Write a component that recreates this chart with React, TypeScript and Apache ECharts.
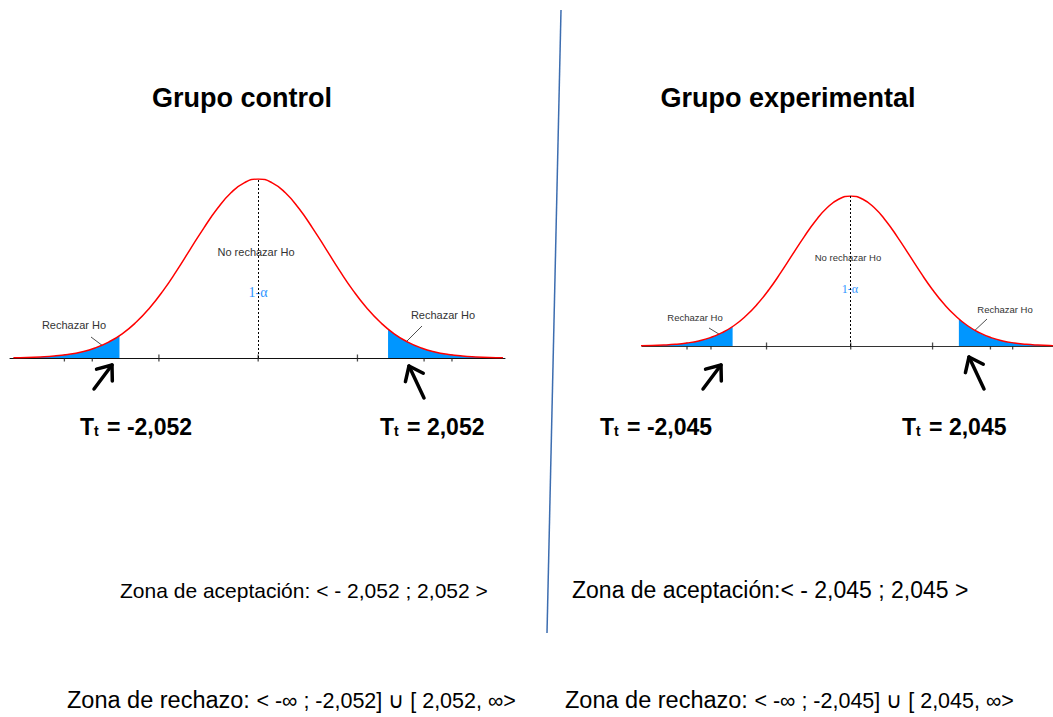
import React, { useEffect, useRef } from "react";
import * as echarts from "echarts";

// Normal curve (x in standard units, height relative to the peak)
const curveX = [-3.6, -3.4, -3.2, -3.0, -2.8, -2.6, -2.4, -2.2, -2.0, -1.8, -1.6, -1.4, -1.2, -1.0, -0.8, -0.6, -0.4, -0.2, 0,
  0.2, 0.4, 0.6, 0.8, 1.0, 1.2, 1.4, 1.6, 1.8, 2.0, 2.2, 2.4, 2.6, 2.8, 3.0, 3.2, 3.4, 3.6];
const curveY = [0.002, 0.003, 0.006, 0.011, 0.020, 0.034, 0.056, 0.089, 0.135, 0.198, 0.278, 0.375, 0.487, 0.607, 0.726, 0.835, 0.923, 0.980, 1,
  0.980, 0.923, 0.835, 0.726, 0.607, 0.487, 0.375, 0.278, 0.198, 0.135, 0.089, 0.056, 0.034, 0.020, 0.011, 0.006, 0.003, 0.002];

// Critical points as drawn (x, height) for each group
const controlLeftEdge = [-2.04, 0.125];
const controlRightEdge = [1.91, 0.161];
const experimentalLeftEdge = [-2.02, 0.130];
const experimentalRightEdge = [1.85, 0.181];

// Tick marks on each axis
const controlTicks = [-2.85, -2.44, -1.46, 0, 1.46, 2.44, 2.85];
const experimentalTicks = [-2.8, -2.39, -1.44, 0, 1.4, 2.39, 2.77];

const titles = ["Grupo control", "Grupo experimental"];
const criticalLabels = ["-2,052", "2,052", "-2,045", "2,045"];
const acceptLabels = ["Zona de aceptación: < - 2,052 ; 2,052 >", "Zona de aceptación:< - 2,045 ; 2,045 >"];
const rejectIntervals = ["< -∞ ; -2,052] ∪ [ 2,052, ∞>", "< -∞ ; -2,045] ∪ [ 2,045, ∞>"];

const FONT = "'Liberation Sans', Arial, sans-serif";
const SERIF = "'Liberation Serif', 'Times New Roman', serif";

function curvePoints() {
  return curveX.map((x, i) => [x, curveY[i]]);
}
function leftTail(edge: number[]) {
  const pts = curvePoints().filter((p) => p[0] < edge[0]);
  return [...pts, edge];
}
function rightTail(edge: number[]) {
  const pts = curvePoints().filter((p) => p[0] > edge[0]);
  return [edge, ...pts];
}

function arrow(tail: number[], tip: number[], key: string) {
  const dx = tip[0] - tail[0];
  const dy = tip[1] - tail[1];
  const len = Math.sqrt(dx * dx + dy * dy);
  const ux = dx / len, uy = dy / len;
  const L = 16, a = (38 * Math.PI) / 180;
  const w1 = [tip[0] - L * (ux * Math.cos(a) - uy * Math.sin(a)), tip[1] - L * (uy * Math.cos(a) + ux * Math.sin(a))];
  const w2 = [tip[0] - L * (ux * Math.cos(a) + uy * Math.sin(a)), tip[1] - L * (uy * Math.cos(a) - ux * Math.sin(a))];
  return [
    { type: "polyline", id: key + "s", shape: { points: [tail, tip] }, style: { stroke: "#000", lineWidth: 3.5, lineCap: "round" } },
    { type: "polyline", id: key + "h", shape: { points: [w1, tip, w2] }, style: { stroke: "#000", fill: null, lineWidth: 3.5, lineCap: "round", lineJoin: "round" } },
  ];
}

function smallText(x: number, y: number, text: string, size: number, color = "#333", family = FONT) {
  return {
    type: "text",
    x,
    y,
    style: { text, fill: color, fontSize: size, fontFamily: family, textAlign: "center", textVerticalAlign: "middle" },
  };
}
function leader(p1: number[], p2: number[]) {
  return { type: "line", shape: { x1: p1[0], y1: p1[1], x2: p2[0], y2: p2[1] }, style: { stroke: "#222", lineWidth: 0.8 } };
}
function tLabel(x: number, y: number, value: string) {
  return {
    type: "text",
    x,
    y,
    style: {
      text: "{a|T}{b|t}{a| = " + value + "}",
      fontFamily: FONT,
      textVerticalAlign: "middle",
      rich: {
        a: { fontSize: 23, fontWeight: "bold", fill: "#000", fontFamily: FONT, lineHeight: 28, verticalAlign: "bottom" },
        b: { fontSize: 14, fontWeight: "bold", fill: "#000", fontFamily: FONT, lineHeight: 28, verticalAlign: "bottom", padding: [0, 2, 0, 0] },
      },
    },
  };
}
function rejectLabel(x: number, y: number, interval: string) {
  return {
    type: "text",
    x,
    y,
    style: {
      text: "{a|Zona de rechazo: }{b|" + interval + "}",
      textVerticalAlign: "middle",
      rich: {
        a: { fontSize: 23.5, fontFamily: FONT, fill: "#000", lineHeight: 28, verticalAlign: "bottom" },
        b: { fontSize: 21.5, fontFamily: FONT, fill: "#000", lineHeight: 28, verticalAlign: "bottom" },
      },
    },
  };
}

function seriesFor(gridIndex: number, leftEdge: number[], rightEdge: number[], ticks: number[]) {
  const common = { xAxisIndex: gridIndex, yAxisIndex: gridIndex, silent: true };
  return [
    { ...common, type: "line", data: leftTail(leftEdge), smooth: true, symbol: "none", lineStyle: { width: 0 }, areaStyle: { color: "#0096ff", opacity: 1 } },
    { ...common, type: "line", data: rightTail(rightEdge), smooth: true, symbol: "none", lineStyle: { width: 0 }, areaStyle: { color: "#0096ff", opacity: 1 } },
    {
      ...common,
      type: "line",
      data: curvePoints(),
      smooth: true,
      symbol: "none",
      lineStyle: { color: "#ff0000", width: 1.5 },
      markLine: {
        silent: true,
        symbol: "none",
        label: { show: false },
        lineStyle: { color: "#000", type: [2, 2], width: 1 },
        data: [[{ coord: [0, 0] }, { coord: [0, 1] }]],
      },
    },
    {
      ...common,
      type: "scatter",
      data: ticks.map((t) => [t, 0]),
      symbol: "rect",
      symbolSize: [1.3, 7],
      itemStyle: { color: "#222" },
    },
  ];
}

export default function App() {
  const ref = useRef<HTMLDivElement>(null);
  useEffect(() => {
    if (!ref.current) return;
    const chart = echarts.init(ref.current, undefined, { renderer: "svg" });
    const axisCommon = {
      type: "value",
      axisLabel: { show: false },
      axisTick: { show: false },
      splitLine: { show: false },
    };
    const option = {
      animation: false,
      backgroundColor: "#fff",
      grid: [
        { left: 10, right: 548, top: 179, bottom: 359 },
        { left: 642, right: 0, top: 196, bottom: 371 },
      ],
      xAxis: [
        { ...axisCommon, gridIndex: 0, min: -3.65, max: 3.63, axisLine: { show: true, onZero: true, lineStyle: { color: "#111", width: 1 } } },
        { ...axisCommon, gridIndex: 1, min: -3.57, max: 3.46, axisLine: { show: true, onZero: true, lineStyle: { color: "#333", width: 1 } } },
      ],
      yAxis: [
        { ...axisCommon, gridIndex: 0, min: 0, max: 1, axisLine: { show: false } },
        { ...axisCommon, gridIndex: 1, min: 0, max: 1, axisLine: { show: false } },
      ],
      series: [
        ...seriesFor(0, controlLeftEdge, controlRightEdge, controlTicks),
        ...seriesFor(1, experimentalLeftEdge, experimentalRightEdge, experimentalTicks),
      ],
      graphic: [
        { type: "line", shape: { x1: 561, y1: 10, x2: 547, y2: 633 }, style: { stroke: "#3c6db0", lineWidth: 1.5 } },
        { type: "text", x: 242, y: 98, style: { text: titles[0], fontSize: 27, fontWeight: "bold", fontFamily: FONT, fill: "#000", textAlign: "center", textVerticalAlign: "middle" } },
        { type: "text", x: 788, y: 98, style: { text: titles[1], fontSize: 27, fontWeight: "bold", fontFamily: FONT, fill: "#000", textAlign: "center", textVerticalAlign: "middle" } },
        smallText(256, 252, "No rechazar Ho", 11),
        smallText(258, 292, "1-α", 14, "#2f95ff", SERIF),
        smallText(848, 257, "No rechazar Ho", 9.5),
        smallText(850, 289, "1-α", 12, "#2f95ff", SERIF),
        smallText(74, 325, "Rechazar Ho", 11),
        smallText(443, 315, "Rechazar Ho", 11),
        smallText(695, 317, "Rechazar Ho", 9.5),
        smallText(1005, 309, "Rechazar Ho", 9.5),
        leader([91, 337], [111, 352]),
        leader([422, 326], [402, 346]),
        leader([709, 328], [727, 339]),
        leader([987, 319], [971, 334]),
        ...arrow([94, 389], [112, 365], "a1"),
        ...arrow([424, 398], [409, 366], "a2"),
        ...arrow([703, 389], [721, 365], "a3"),
        ...arrow([984, 389], [969, 357], "a4"),
        tLabel(80, 424, criticalLabels[0]),
        tLabel(380, 424, criticalLabels[1]),
        tLabel(600, 424, criticalLabels[2]),
        tLabel(902, 424, criticalLabels[3]),
        { type: "text", x: 120, y: 590, style: { text: acceptLabels[0], fontSize: 21, fontFamily: FONT, fill: "#000", textVerticalAlign: "middle" } },
        { type: "text", x: 572, y: 590, style: { text: acceptLabels[1], fontSize: 23, fontFamily: FONT, fill: "#000", textVerticalAlign: "middle" } },
        rejectLabel(67, 698, rejectIntervals[0]),
        rejectLabel(565, 698, rejectIntervals[1]),
      ],
    };
    chart.setOption(option as any);
    return () => chart.dispose();
  }, []);
  return <div ref={ref} style={{ position: "absolute", left: 0, top: 0, width: 1053, height: 717 }} />;
}
